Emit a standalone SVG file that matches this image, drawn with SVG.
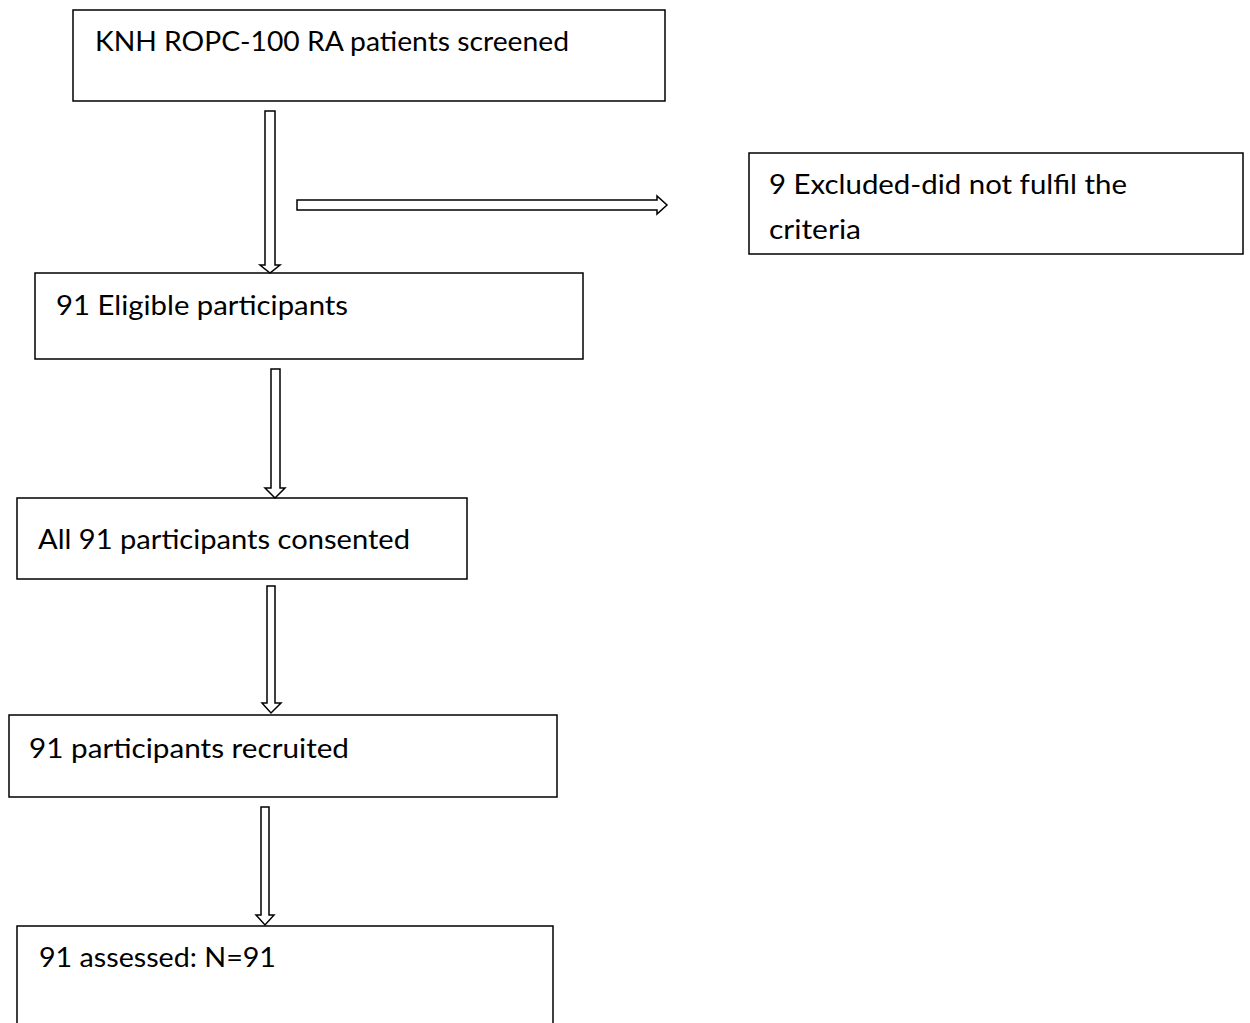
<svg xmlns="http://www.w3.org/2000/svg" width="1250" height="1023" viewBox="0 0 1250 1023">
<style>
.box{fill:#fff;stroke:#000;stroke-width:1.5}
.t{font-family:Lato,"Open Sans",sans-serif;font-size:26px;fill:#000}
.arr{fill:#fff;stroke:#000;stroke-width:1.5;stroke-linejoin:miter}
</style>
<rect width="1250" height="1023" fill="#fff"/>
<g id="n1"><rect class="box" x="73" y="10" width="592" height="91"/><text class="t" x="95" y="51" textLength="474" lengthAdjust="spacingAndGlyphs">KNH ROPC-100 RA patients screened</text></g>
<g id="n2"><rect class="box" x="35" y="273" width="548" height="86"/><text class="t" x="56" y="315" textLength="292" lengthAdjust="spacingAndGlyphs">91 Eligible participants</text></g>
<g id="n3"><rect class="box" x="749" y="153" width="494" height="101"/><text class="t" x="769" y="194" textLength="358" lengthAdjust="spacingAndGlyphs">9 Excluded-did not fulfil the</text><text class="t" x="769" y="239" textLength="92" lengthAdjust="spacingAndGlyphs">criteria</text></g>
<g id="n4"><rect class="box" x="17" y="498" width="450" height="81"/><text class="t" x="38" y="549" textLength="372" lengthAdjust="spacingAndGlyphs">All 91 participants consented</text></g>
<g id="n5"><rect class="box" x="9" y="715" width="548" height="82"/><text class="t" x="29" y="758" textLength="320" lengthAdjust="spacingAndGlyphs">91 participants recruited</text></g>
<g id="n6"><rect class="box" x="17" y="926" width="536" height="110"/><text class="t" x="39" y="967" textLength="237" lengthAdjust="spacingAndGlyphs">91 assessed: N=91</text></g>
<g id="connectors">
<path class="arr" d="M265,111 H275 V265 H280 L270,273 L260,265 H265 Z"/>
<path class="arr" d="M297,200 H657 V196 L667,205 L657,214 V210 H297 Z"/>
<path class="arr" d="M271,369 H280 V488 H285 L275,498 L265,488 H271 Z"/>
<path class="arr" d="M267,586 H275 V703 H281 L271,713 L262,703 H267 Z"/>
<path class="arr" d="M261,807 H269 V915 H274 L265,925 L256,915 H261 Z"/>
</g>
</svg>
